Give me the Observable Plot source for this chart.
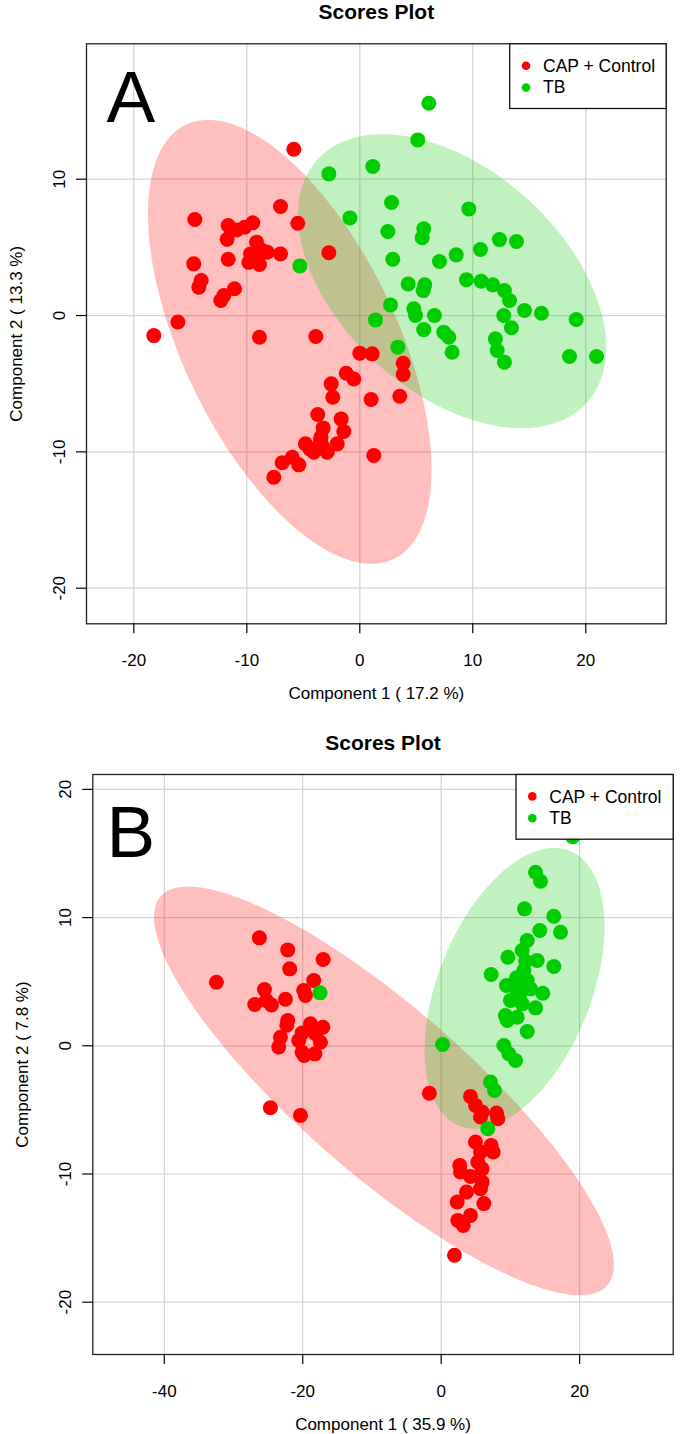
<!DOCTYPE html>
<html>
<head>
<meta charset="utf-8">
<script src="https://cdn.jsdelivr.net/npm/d3@7"></script>
<script src="https://cdn.jsdelivr.net/npm/@observablehq/plot@0.6"></script>
<style>
  html, body { margin: 0; padding: 0; background: #fff; }
  #chart { width: 680px; height: 1434px; position: relative; }
  #chart svg { display: block; }
</style>
</head>
<body>
<div id="chart"></div>
<script>
// ---------- data ----------
const groups = ["CAP + Control", "TB"];
const groupColors = ["#FF0000", "#00CD00"];
const panelLetters = ["A", "B"];
const plotTitle = "Scores Plot";
const xTitles = ["Component 1 ( 17.2 %)", "Component 1 ( 35.9 %)"];
const yTitles = ["Component 2 ( 13.3 %)", "Component 2 ( 7.8 %)"];

const xTicksA = [-20, -10, 0, 10, 20];
const yTicksA = [-20, -10, 0, 10];
const xTicksB = [-40, -20, 0, 20];
const yTicksB = [-20, -10, 0, 10, 20];

// Panel A scores [component 1, component 2]
const aRed = [
  [-5.84,12.2],[-14.6,7.04],[-7.02,8.0],[-5.49,6.77],[-11.65,6.6],[-10.9,6.28],[-10.2,6.48],
  [-9.47,6.8],[-11.74,5.6],[-9.14,5.38],[-9.67,4.52],[-8.64,4.77],[-8.2,4.65],[-9.82,3.9],
  [-8.88,3.74],[-9.4,4.3],[-7.02,4.52],[-11.65,4.13],[-14.7,3.79],[-14.04,2.57],[-14.25,2.08],
  [-11.09,1.96],[-12.03,1.47],[-12.3,1.1],[-2.74,4.6],[-16.1,-0.47],[-18.23,-1.47],[-8.88,-1.59],
  [-3.89,-1.54],[0.0,-2.76],[1.1,-2.81],[-1.2,-4.23],[-0.53,-4.65],[-2.53,-5.01],[-2.39,-5.99],
  [1.0,-6.16],[-3.72,-7.26],[-1.65,-7.58],[-3.24,-8.24],[-1.41,-8.51],[-4.81,-9.41],[-3.48,-9.17],
  [-2.0,-9.41],[-4.07,-10.02],[-2.89,-10.02],[1.24,-10.27],[-5.98,-10.39],[-5.4,-10.95],
  [-6.87,-10.8],[-7.61,-11.86],[3.84,-3.5],[3.84,-4.33],[3.54,-5.92],[-3.44,-8.92],[-4.4,-9.8],
  [-3.3,-9.6]
];
const aGreen = [
  [6.11,15.57],[5.13,12.88],[1.15,10.93],[-2.74,10.39],[2.81,8.29],[9.65,7.82],[-0.88,7.16],
  [2.48,6.16],[5.66,6.36],[5.52,5.7],[12.36,5.57],[13.87,5.43],[10.68,4.84],[8.53,4.45],
  [2.92,4.13],[7.05,3.96],[-5.31,3.64],[4.28,2.32],[5.75,2.25],[5.61,1.83],[9.44,2.62],
  [10.74,2.52],[11.77,2.25],[12.8,1.83],[13.25,1.1],[2.72,0.78],[4.78,0.49],[4.93,0.0],
  [6.61,0.0],[12.74,0.0],[14.58,0.37],[16.08,0.17],[19.15,-0.29],[1.39,-0.32],[5.66,-1.03],
  [7.43,-1.22],[7.88,-1.59],[8.17,-2.69],[3.36,-2.32],[13.42,-0.9],[12.0,-1.71],[12.16,-2.57],
  [12.8,-3.42],[18.56,-3.01],[20.95,-3.01]
];

// Panel B scores
const bRed = [
  [-26.26,8.42],[-22.17,7.48],[-21.88,6.0],[-17.05,6.73],[-32.47,4.96],[-18.41,5.09],[-19.86,4.31],
  [-19.61,3.92],[-25.53,4.39],[-26.93,3.22],[-24.52,3.19],[-22.5,3.63],[-25.25,3.53],[-22.17,1.97],
  [-22.3,1.6],[-23.22,0.67],[-23.47,-0.1],[-18.89,1.71],[-17.1,1.45],[-17.44,0.28],[-20.58,0.41],
  [-20.1,1.0],[-18.16,0.94],[-20.09,-0.5],[-19.8,-0.76],[-18.25,-0.63],[-24.67,-4.83],[-20.33,-5.43],
  [-1.7,-3.7],[4.23,-3.95],[4.96,-4.65],[5.92,-5.17],[5.68,-5.56],[7.99,-5.25],[8.18,-5.69],
  [4.96,-7.51],[7.22,-7.77],[7.51,-8.29],[5.68,-8.29],[5.29,-9.07],[2.69,-9.33],[2.79,-9.85],
  [4.23,-10.19],[5.92,-10.63],[5.68,-11.15],[3.66,-11.41],[2.31,-12.19],[6.16,-12.31],[4.23,-13.23],
  [2.4,-13.62],[3.18,-14.01],[1.92,-16.34],[5.9,-9.6]
];
const bGreen = [
  [19.0,16.3],[13.63,13.53],[14.35,12.83],[12.04,10.68],[16.27,10.1],[17.24,8.86],[14.25,8.99],
  [12.43,8.21],[11.7,7.43],[9.63,6.91],[13.87,6.65],[16.27,6.18],[7.22,5.56],[11.94,5.87],
  [9.44,4.7],[12.43,5.09],[10.98,4.31],[12.9,4.44],[14.68,4.1],[10.01,3.53],[11.7,3.27],
  [13.63,2.96],[9.29,2.36],[10.98,2.23],[9.54,1.97],[12.43,1.11],[9.05,0.02],[9.77,-0.62],
  [10.74,-1.15],[0.2,0.1],[7.12,-2.83],[7.7,-3.48],[6.74,-6.47],[-17.5,4.13],
  [10.9,5.3],[11.3,3.9],[12.2,6.6]
];

// Confidence ellipses: [centre x, centre y, half-width x, half-height y, correlation]
const ellipsesA = [[-6.2, -1.93, 12.55, 16.28, -0.576], [8.17, 2.52, 13.64, 10.78, -0.45]];
const ellipsesB = [[-8.27, -3.52, 33.23, 15.94, -0.851], [10.6, 4.48, 13.0, 10.95, 0.44]];

// ---------- drawing ----------
function ellipseOutline(e) {
  const [cx, cy, wx, wy, rho] = e;
  const s = Math.sqrt(1 - rho * rho);
  return d3.range(0, 360, 2).map(deg => {
    const t = deg * Math.PI / 180;
    return {x: cx + wx * Math.cos(t), y: cy + wy * (rho * Math.cos(t) + s * Math.sin(t))};
  });
}

const FONT = '"Liberation Sans", Arial, Helvetica, sans-serif';
const fmt = d => String(d);

function panel(p) {
  const marks = [
    Plot.gridX(p.xt, {stroke: "#d3d3d3", strokeOpacity: 1, strokeWidth: 1.2}),
    Plot.gridY(p.yt, {stroke: "#d3d3d3", strokeOpacity: 1, strokeWidth: 1.2}),
    ...p.ell.map((e, i) => Plot.line(ellipseOutline(e), {
      x: "x", y: "y", curve: "linear-closed", fill: groupColors[i], fillOpacity: 0.25, stroke: "none"
    })),
    Plot.dot(p.red, {x: d => d[0], y: d => d[1], r: 7.5, fill: groupColors[0], stroke: "none"}),
    Plot.dot(p.green, {x: d => d[0], y: d => d[1], r: 7.5, fill: groupColors[1], stroke: "none"}),
    Plot.frame({stroke: "#222", strokeWidth: 1.3}),
    Plot.axisX(p.xt, {tickSize: 10, tickPadding: 20, label: null, strokeWidth: 1.2, tickFormat: fmt}),
    Plot.axisY(p.yt, {tickSize: 10, tickPadding: 11.5, tickRotate: -90, label: null, strokeWidth: 1.2, tickFormat: fmt}),
    Plot.text([plotTitle], {text: d => d, frameAnchor: "top", dy: -24.5, lineAnchor: "bottom",
      fontWeight: "bold", fontSize: 21}),
    Plot.text([p.xTitle], {text: d => d, frameAnchor: "bottom", dy: 75, lineAnchor: "bottom"}),
    Plot.text([p.yTitle], {text: d => d, frameAnchor: "left", dx: -64.5, rotate: -90,
      lineAnchor: "bottom", textAnchor: "middle"}),
    Plot.text([p.letter], {text: d => d, frameAnchor: "top-left", dx: p.letterDx, dy: p.letterDy,
      lineAnchor: "top", textAnchor: "start", fontSize: 73}),
    // legend
    Plot.frame({insetLeft: 423.2, insetBottom: 515.3, stroke: "#111", strokeWidth: 1.3, fill: "white"}),
    ...groups.map((g, i) => Plot.dot([g], {frameAnchor: "top-left", dx: 439.5, dy: 21.9 + 21.8 * i,
      r: 4.3, fill: groupColors[i], stroke: "none"})),
    ...groups.map((g, i) => Plot.text([g], {text: d => d, frameAnchor: "top-left", dx: 456.5,
      dy: 28 + 21.6 * i, lineAnchor: "bottom", textAnchor: "start", fontSize: 17.5}))
  ];
  return Plot.plot({
    width: 680, height: p.height,
    marginLeft: p.ml, marginRight: p.mr, marginTop: p.mt, marginBottom: p.mb,
    x: {domain: p.xd, axis: null}, y: {domain: p.yd, axis: null},
    style: {fontFamily: FONT, fontSize: "17px", color: "#000", background: "#fff", overflow: "visible"},
    marks
  });
}

const chart = document.getElementById("chart");
chart.appendChild(panel({
  height: 717, ml: 86, mr: 14.3, mt: 43.3, mb: 93.7,
  xd: [-24.19, 27.12], yd: [-22.61, 19.93], xt: xTicksA, yt: yTicksA,
  ell: ellipsesA, red: aRed, green: aGreen,
  xTitle: xTitles[0], yTitle: yTitles[0], letter: panelLetters[0], letterDx: 20, letterDy: 26.4
}));
chart.appendChild(panel({
  height: 717, ml: 92.3, mr: 7.3, mt: 57, mb: 80,
  xd: [-50.33, 33.52], yd: [-24.08, 21.16], xt: xTicksB, yt: yTicksB,
  ell: ellipsesB, red: bRed, green: bGreen,
  xTitle: xTitles[1], yTitle: yTitles[1], letter: panelLetters[1], letterDx: 13.7, letterDy: 31
}));
</script>
</body>
</html>
